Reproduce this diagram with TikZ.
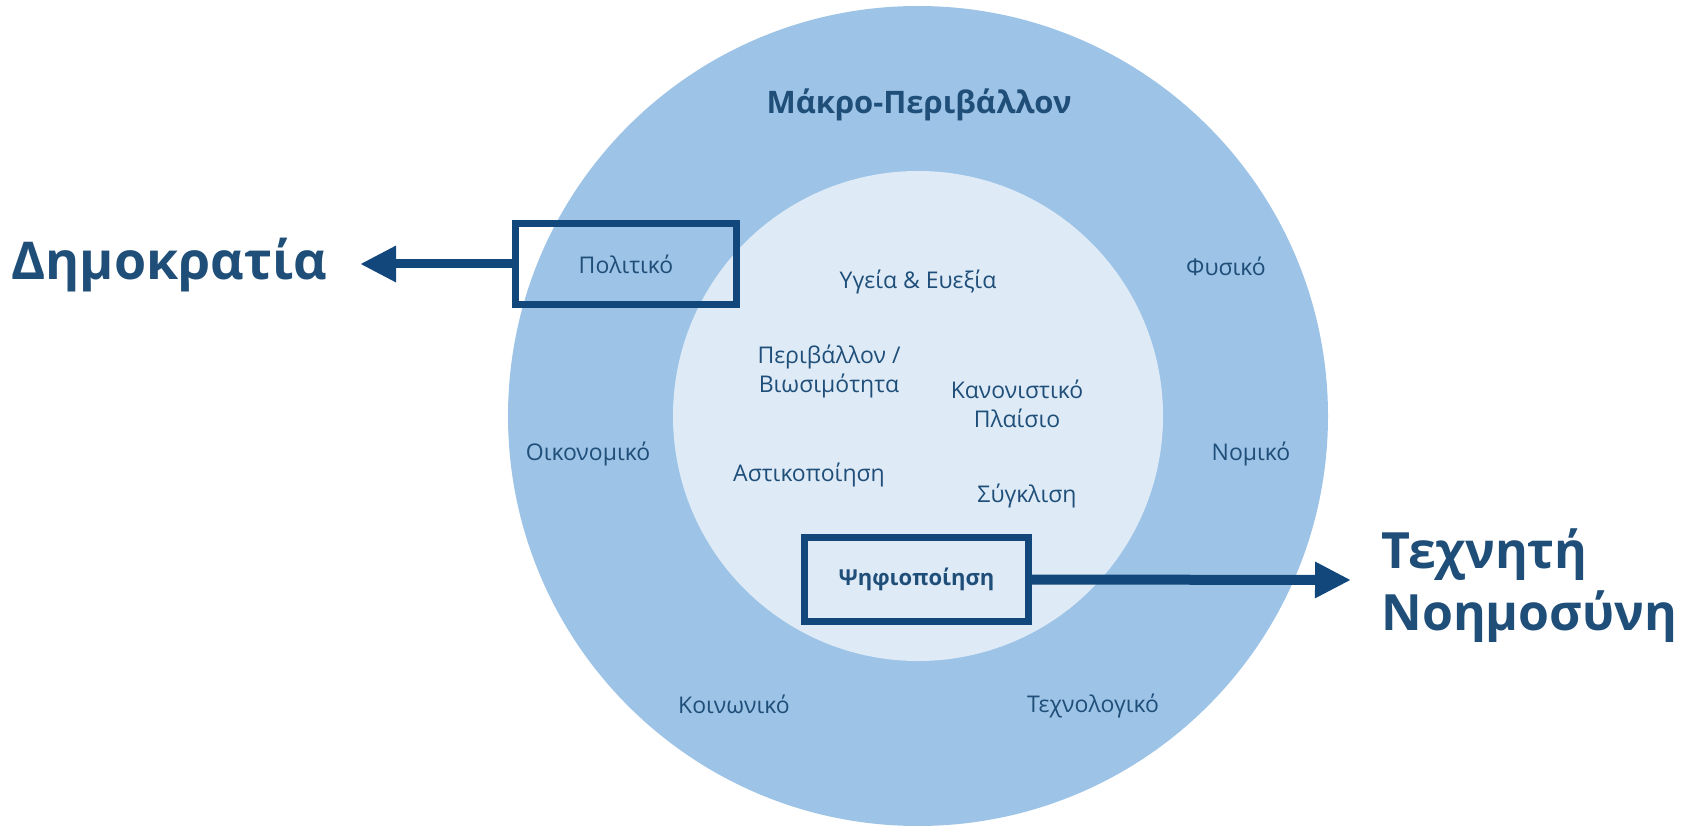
\documentclass[tikz,border=0pt]{standalone}
\usepackage{fontspec}
\setmainfont{Open Sans}
\usetikzlibrary{arrows.meta}
\definecolor{outerblue}{HTML}{9DC3E6}
\definecolor{innerblue}{HTML}{DEEBF7}
\definecolor{textblue}{HTML}{1F4E79}
\definecolor{frameblue}{HTML}{11477A}
\tikzset{factor/.style={text=textblue, font=\fontsize{23}{29}\selectfont, align=center}}
\tikzset{factorbox/.style={draw=frameblue, line width=7pt, text=textblue}}
\tikzset{bigtext/.style={text=textblue, font=\fontsize{50}{62}\selectfont\bfseries, align=left}}
\tikzset{bigarrow/.style={draw=frameblue, line width=10pt, -{Triangle[length=36pt,width=34pt]}}}

\begin{document}
\begin{tikzpicture}[x=1pt, y=-1pt]

\useasboundingbox (0,0) rectangle (1695,826);

\fill[outerblue] (918,416) circle (410pt);
\fill[innerblue] (918,416) circle (245pt);

\node[factor, font=\fontsize{31}{36}\selectfont\bfseries] (macro) at (919,105) {Μάκρο-Περιβάλλον};

\node[factorbox, factor, minimum width=221pt, minimum height=81pt] (polit) at (626,264) {Πολιτικό};
\node[factorbox, factor, font=\fontsize{22}{27}\selectfont\bfseries, minimum width=224pt, minimum height=84pt] (digit) at (916.5,579.5) {Ψηφιοποίηση};

\node[factor] (health) at (918,282) {Υγεία \& Ευεξία};
\node[factor] (phys) at (1226,266) {Φυσικό};
\node[factor] (sustain) at (829,371) {Περιβάλλον /\\Βιωσιμότητα};
\node[factor] (regul) at (1017,404) {Κανονιστικό\\Πλαίσιο};
\node[factor] (econ) at (588,454) {Οικονομικό};
\node[factor] (legal) at (1251,454) {Νομικό};
\node[factor] (urban) at (809,475) {Αστικοποίηση};
\node[factor] (conv) at (1027,496) {Σύγκλιση};
\node[factor] (social) at (734,704) {Κοινωνικό};
\node[factor] (techno) at (1093,706) {Τεχνολογικό};

\node[bigtext, font=\fontsize{52}{62}\selectfont\bfseries, anchor=west] (democ) at (8,265) {Δημοκρατία};
\node[bigtext, anchor=west] (ai) at (1378,586) {Τεχνητή\\Νοημοσύνη};

\coordinate (demtip) at (360,264);
\coordinate (aitip) at (1351,580);

\draw[bigarrow, line width=9pt] (polit.west) -- (demtip);
\draw[bigarrow] (digit.east) -- (aitip);

\end{tikzpicture}
\end{document}
